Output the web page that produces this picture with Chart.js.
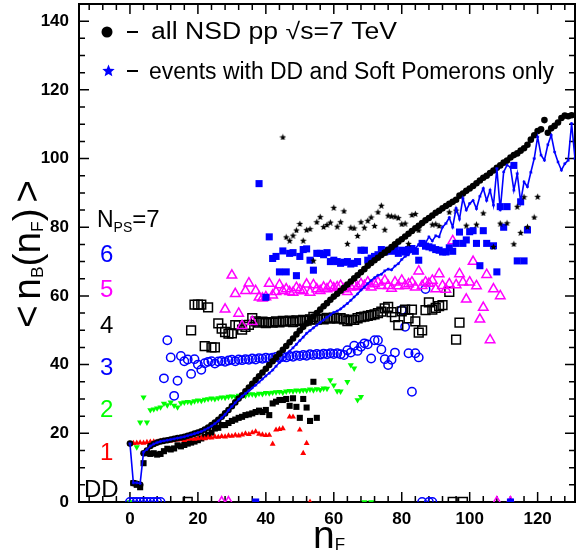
<!DOCTYPE html>
<html lang="en">
<head>
<meta charset="UTF-8">
<title>nB vs nF</title>
<script src="https://cdn.jsdelivr.net/npm/chart.js"></script>
<style>
  body { margin: 0; background: #fff; }
  #wrap { width: 577px; height: 551px; }
</style>
</head>
<body>
<div id="wrap"><canvas id="chart" width="577" height="551"></canvas></div>
<script>
// n_F on x, <n_B> on y. each series starts at n_F = *Start, null = empty bin
const xTicks = [0, 20, 40, 60, 80, 100, 120];
const yTicks = [0, 20, 40, 60, 80, 100, 120, 140];

const nsdStart = 0;
const nsdAll = [
  17, 5.5, 5.3, 5.0, 14.2, 15.0, 16.3, 16.9, 17.3, 17.6,
  17.8, 18.0, 18.2, 18.4, 18.6, 18.8, 19.0, 19.3, 19.6, 19.9,
  20.2, 20.6, 21.1, 21.7, 22.4, 23.1, 23.9, 24.8, 25.8, 26.8,
  27.9, 29.0, 30.1, 31.1, 32.2, 33.3, 34.4, 35.5, 36.6, 37.7,
  38.8, 39.9, 41.0, 42.1, 43.2, 44.3, 45.4, 46.5, 47.6, 48.8,
  49.9, 51.0, 52.0, 53.0, 54.0, 55.0, 56.0, 57.0, 57.9, 58.9,
  59.8, 60.6, 61.5, 62.4, 63.3, 64.2, 65.1, 66.0, 66.9, 67.8,
  68.8, 69.6, 70.4, 71.1, 71.9, 72.6, 73.4, 74.2, 75.0, 75.8,
  76.5, 77.3, 78.1, 78.9, 79.7, 80.4, 81.2, 82.0, 82.7, 83.4,
  84.2, 84.8, 85.5, 86.2, 86.8, 87.4, 88.0, 89.2, 89.8, 90.6,
  91.3, 92.0, 92.8, 93.6, 94.4, 95.0, 95.8, 96.5, 97.3, 98.0,
  98.8, 99.4, 100.3, 101.0, 101.5, 102.3, 103.0, 104.0, 105.5, 106.8,
  108.0, 108.5, 111.2, 107.5, 108.8, 109.5, 110.5, 111.8, 112.5, 112.3, 112.6
];

const softStart = 0; // DD + soft pomerons only
const softOnly = [
  17, 5.6, 5.6, 5.4, 14.5, 15.3, 16.3, 16.9, 17.3, 17.6,
  17.8, 18.0, 18.2, 18.4, 18.6, 18.8, 19.0, 19.3, 19.6, 19.9,
  20.2, 20.5, 21.0, 21.5, 22.1, 22.8, 23.6, 24.5, 25.5, 26.7,
  27.8, 28.9, 29.9, 30.8, 31.6, 32.4, 33.2, 34.0, 34.9, 35.8,
  36.7, 37.5, 38.4, 39.5, 40.6, 41.7, 42.8, 43.9, 44.9, 45.9,
  47.0, 48.0, 49.1, 49.9, 50.7, 51.5, 52.3, 53.0, 53.8, 54.5,
  55.2, 55.6, 56.2, 57.0, 57.8, 58.7, 59.7, 60.6, 61.7, 62.6,
  63.6, 64.5, 65.3, 66.0, 66.3, 67.3, 67.8, 67.6, 68.7, 69.4,
  70.6, 71.5, 72.0, 73.3, 73.8, 75.0, 75.8, 75.4, 77.2, 76.0,
  77.5, 77.2, 80.0, 81.1, 82.8, 80.0, 85.5, 82.4, 88.4, 85.0,
  86.9, 87.8, 85.4, 89.0, 91.3, 87.8, 90.8, 86.4, 97.1, 85.0,
  96.1, 98.1, 97.5, 90.8, 95.6, 87.4, 93.2, 91.8, 96.0, 100.0,
  106.3, 101.0, 99.5, 104.0, 106.8, 101.9, 99.0, 96.6, 98.5, 99.5, 110.2, 100.0
];

const ddStart = 1;
const ddOnly = [
  5.5, 5.0, 4.3, 11.3, 14.2, 14.0, 14.2, 13.8, 14.0, 14.8,
  15.5, 15.3, 15.6, 16.5, 16.2, 16.6, 17.0, 17.3, 17.6, 18.0,
  18.5, 19.0, 19.5, 20.2, 21.4, 21.6, 22.4, 22.4, 23.0, 23.6,
  24.0, 24.5, 24.8, 25.3, 25.5, 25.8, 26.2, 26.6, 26.2, 26.8,
  25.3, 28.7, 29.2, 29.7, 29.7, 30.0, 28.0, 30.2, 27.7, 24.5,
  30.0, 27.5, 23.6, 35.0, 24.5
];

const ps1Start = 0;
const ps1 = [
  17.0, 17.1, 17.2, 17.3, 17.2, 17.4, 17.5, 17.6, 17.5, 17.7,
  17.8, 17.9, 17.8, 18.0, 18.1, 18.2, 18.0, 18.3, 18.4, 18.3,
  18.5, 18.6, 18.5, 18.8, 18.7, 19.0, 18.9, 19.1, 19.0, 19.3,
  19.2, 19.5, 19.3, 19.6, 19.9, 19.7, 20.2, 20.5, 19.8, 19.6,
  19.4, 19.5, 16.9, 21.0, 21.2, 21.4, null, 24.8, 24.8, null,
  21.0, 14.2, 17.1, 0
];

const ps2Start = 0;
const ps2 = [
  0, null, 16.0, 23.2, 30.5, 23.2, 26.8, 27.0, 27.3, 27.6,
  28.7, 28.2, 29.0, 28.1, 27.6, 28.8, 29.0, 29.2, 29.0, 29.4,
  29.6, 29.5, 29.8, 30.0, 30.2, 30.0, 30.3, 30.5, 30.4, 30.7,
  30.8, 30.6, 31.0, 31.1, 31.0, 31.3, 31.4, 31.2, 31.6, 31.5,
  31.8, 31.7, 31.9, 32.0, 32.1, 31.9, 32.2, 32.4, 32.3, 32.5,
  32.4, 32.6, 32.5, 32.8, 32.6, 32.9, 32.7, 33.1, 33.0, 35.5,
  34.0, 32.3, 32.2, null, 35.0, 39.9, 38.9, 29.7, 30.6, 0, null, 0
];

const ps3Start = 0;
const ps3 = [
  0, 0, 0, 0, 0, 0, 0, 0, 0, 0,
  36.0, 47.1, 42.1, 30.9, 35.3, 42.5, 41.0, 41.5, 37.3, 41.6,
  40.0, 38.5, 40.4, 40.8, 41.0, 40.3, 40.9, 41.1, 40.8, 41.2,
  41.4, 41.0, 41.5, 41.3, 41.6, 41.4, 41.8, 41.5, 41.9, 41.7,
  42.0, 41.8, 42.0, 42.2, 41.9, 42.3, 42.1, 42.5, 42.3, 42.7,
  42.5, 42.8, 42.6, 43.0, 42.8, 43.1, 42.9, 43.2, 43.0, 43.3,
  43.1, 43.3, 43.0, 42.8, 44.2, 43.5, 45.5, 44.0, 45.2, 46.2,
  45.9, 41.8, 47.1, 47.1, 44.4, 41.6, 39.9, 41.4, 43.5, null,
  55.9, 51.0, 43.3, 32.1, 43.3, 42.1, 0, 62.0, 0, 0
];

const ps4Start = 17;
const ps4 = [
  0, 50.0, 57.5, 57.5, 57.5, 45.4, 56.7, 45.0, 45.0, 52.0,
  50.5, 49.5, 49.0, 49.1, 51.5, 51.5, 50.2, 51.0, 51.6, 53.5,
  52.6, 52.2, 52.5, 52.1, 52.4, 52.2, 52.6, 52.3, 52.7, 52.5,
  52.8, 52.4, 52.9, 52.7, 53.0, 52.8, 53.2, 53.9, 53.1, 53.4,
  53.2, 53.6, 53.4, 53.7, 53.5, 53.5, 53.2, 52.7, 53.0, 53.0,
  53.5, 53.8, 54.0, 54.2, 54.4, 54.6, 55.0, 55.4, 56.4, 56.8,
  55.3, 53.8, 51.5, 55.5, 56.0, 53.5, 56.0, 52.6, 49.3, 50.0,
  55.9, 58.1, 56.0, 56.5, 57.0, 57.3, null, 61.2, 0, 47.3, 52.2, 0
];

const ps5Start = 27;
const ps5 = [
  0, 56.1, 0, 66.0, 60.6, 54.9, 51.3, 61.5, 63.7, 52.5,
  61.5, 59.6, 59.3, 59.7, 63.6, 60.2, 61.2, 63.2, 61.5, 62.0,
  61.2, 61.0, 62.4, 61.8, 61.4, 63.4, 61.0, 63.2, 62.0, 61.5,
  62.5, 62.0, 63.0, 62.3, 62.6, 63.0, 62.0, 61.2, 62.5, 63.0,
  62.6, 63.5, 63.0, 64.0, 62.5, 63.5, 64.0, 63.0, 64.5, 63.0,
  62.2, 64.0, 62.9, 64.5, 63.0, 63.5, 64.0, 62.5, 67.2, 63.0,
  64.0, 63.6, 64.5, 62.0, 66.4, 63.0, 61.9, 63.5, 76.0, 63.2,
  66.4, 64.0, 59.0, 64.0, 70.0, 62.9, 53.2, 56.6, 66.2, 47.2,
  62.0, 0, 60.0, null, null, 0
];

const ps6Start = 37;
const ps6 = [
  0, 92.7, null, 59.6, 77.2, 70.9, 71.5, 67.0, 73.1, 67.0,
  72.4, 72.6, 65.9, 71.5, 73.5, 73.7, 70.4, 67.5, 72.4, 72.4,
  72.0, 72.6, 70.0, 70.4, 70.0, 69.5, 69.8, 70.0, 69.3, 69.5,
  70.0, 73.3, 73.3, 70.4, 71.0, 71.5, 72.0, 73.5, 72.8, 73.3,
  73.0, 73.8, 72.4, 73.3, 72.8, 73.5, 73.8, 73.0, 70.4, 75.3,
  74.5, 74.3, 74.0, 73.5, 73.3, 72.8, 72.8, 74.0, 73.0, 75.3,
  78.6, 75.3, 76.3, 78.7, 79.0, 75.3, 68.8, 79.0, 75.3, null,
  74.6, 67.0, 86.0, 80.0, 86.0, 0, 98.0, 70.2, 87.4, 70.2, 79.2
];

const ps7Start = 45;
const ps7 = [
  106.3, 77.2, 76.2, 77.7, 79.2, 81.1, 76.2, 79.3, 79.6, 70.4,
  81.6, 83.1, 80.2, 80.8, 81.5, 85.8, 80.3, 81.6, 84.8, 75.3,
  80.0, 79.8, 77.6, 81.6, 80.0, 82.0, 83.0, 80.5, 84.5, 86.4,
  79.4, 83.5, 83.3, 83.2, 82.8, 81.0, 81.2, 75.3, 83.7, 84.0,
  79.2, null, null, null, 80.9, 81.0, 80.5, null, null, 84.5,
  null, 85.0, null, null, 80.6, null, null, 80.9, null, 84.2,
  null, null, 74.4, null, 81.2, null, 81.3, null, 75.2, 86.1,
  78.5, 88.9, 80.2, null, 83.0, 89.0
];

const legendLines = ['all NSD pp \u221As=7 TeV', 'events with DD and Soft Pomerons only'];
const psLabels = ['7', '6', '5', '4', '3', '2', '1', 'DD'];
const psColors = ['#000', '#0000ff', '#ff00ff', '#000', '#0000ff', '#00ff00', '#ff0000', '#000'];

function pts(start, vals) {
  return vals.map((v, i) => ({ x: start + i, y: v })).filter(p => p.y !== null);
}

function starCanvas(size, color) {
  const c = document.createElement('canvas');
  c.width = c.height = size;
  const g = c.getContext('2d');
  const r = size / 2, ri = r * 0.45;
  g.beginPath();
  for (let i = 0; i < 10; i++) {
    const rad = i % 2 ? ri : r;
    const a = -Math.PI / 2 + i * Math.PI / 5;
    g.lineTo(r + rad * Math.cos(a), r + 0.6 + rad * Math.sin(a));
  }
  g.closePath();
  g.fillStyle = color;
  g.fill();
  return c;
}

const blackStar = starCanvas(7, '#000');
const blueStarBig = starCanvas(13, '#0000ff');
const FONT = '"Liberation Sans", Arial, sans-serif';

// draws text pieces [str, size, dy] side by side, returns total width
function pieces(ctx, parts, x, y, measureOnly) {
  let cx = x;
  for (const [s, size, dy] of parts) {
    ctx.font = size + 'px ' + FONT;
    if (!measureOnly) ctx.fillText(s, cx, y + dy);
    cx += ctx.measureText(s).width;
  }
  return cx - x;
}

function fitText(ctx, str, x, y, w) {
  const m = ctx.measureText(str).width;
  ctx.save();
  ctx.translate(x, y);
  ctx.scale(w / m, 1);
  ctx.fillText(str, 0, 0);
  ctx.restore();
}

const framePlugin = {
  id: 'frame',
  beforeDatasetsDraw(chart) {
    const { ctx, chartArea: a, scales: { x, y } } = chart;
    ctx.save();
    ctx.strokeStyle = '#000';
    ctx.lineWidth = 1.5;
    ctx.beginPath();
    for (let v = -12; v <= 131; v += 4) {
      const px = x.getPixelForValue(v);
      const len = v % 20 === 0 ? 10 : 6;
      ctx.moveTo(px, a.bottom); ctx.lineTo(px, a.bottom - len);
      ctx.moveTo(px, a.top); ctx.lineTo(px, a.top + len);
    }
    for (let v = 0; v <= 145; v += 5) {
      const py = y.getPixelForValue(v);
      const len = v % 20 === 0 ? 10 : 6;
      ctx.moveTo(a.left, py); ctx.lineTo(a.left + len, py);
      ctx.moveTo(a.right, py); ctx.lineTo(a.right - len, py);
    }
    ctx.stroke();
    ctx.lineWidth = 2;
    ctx.strokeRect(a.left, a.top, a.right - a.left, a.bottom - a.top);
    ctx.restore();
  },
  afterDraw(chart) {
    const { ctx } = chart;
    ctx.save();
    ctx.fillStyle = '#000';
    ctx.textBaseline = 'alphabetic';

    // legend inside the frame
    ctx.beginPath();
    ctx.arc(107, 32, 5.5, 0, Math.PI * 2);
    ctx.fill();
    ctx.drawImage(blueStarBig, 102, 64);
    ctx.fillRect(127, 31, 11, 2);
    ctx.fillRect(127, 70, 11, 2);
    ctx.font = '23px ' + FONT;
    fitText(ctx, legendLines[0], 151, 39, 246);
    fitText(ctx, legendLines[1], 149, 79, 405);

    // N_PS labels on the left
    ctx.fillStyle = psColors[0];
    const w = pieces(ctx, [['N', 23, 0], ['PS', 14, 5]], 97, 227);
    pieces(ctx, [['=' + psLabels[0], 24, 0]], 97 + w, 227);
    const base = [262, 297, 333, 375, 417, 460, 497];
    for (let i = 1; i < psLabels.length; i++) {
      ctx.fillStyle = psColors[i];
      ctx.font = '24px ' + FONT;
      ctx.fillText(psLabels[i], psLabels[i] === 'DD' ? 84 : 100, base[i - 1]);
    }

    // axis titles
    ctx.fillStyle = '#000';
    const yParts = [['<', 38, 0], [' ', 20, 0], ['n', 38, 0], ['B', 17, 3], ['(', 38, 0],
      ['n', 38, 0], ['F', 17, 3], [')', 38, 0], [' ', 20, 0], ['>', 38, 0]];
    const yw = pieces(ctx, yParts, 0, 0, true);
    ctx.save();
    ctx.translate(40, 254);
    ctx.rotate(-Math.PI / 2);
    ctx.scale(148 / yw, 1);
    pieces(ctx, yParts, -yw / 2, 0);
    ctx.restore();

    const xParts = [['n', 39, 0], ['F', 17, 2]];
    const xw = pieces(ctx, xParts, 0, 0, true);
    pieces(ctx, xParts, 329 - xw / 2, 548);
    ctx.restore();
  }
};

const tickFont = { family: FONT, size: 17, weight: 'bold' };

new Chart(document.getElementById('chart'), {
  type: 'scatter',
  data: {
    datasets: [
      {
        data: pts(softStart, softOnly), showLine: true, borderColor: '#0000ff', borderWidth: 1.6,
        pointStyle: 'star', pointRadius: 1.5, pointBorderWidth: 1, pointBorderColor: '#0000ff', tension: 0
      },
      { data: pts(ps7Start, ps7), pointStyle: blackStar },
      { data: pts(nsdStart, nsdAll), pointRadius: 3.3, backgroundColor: '#000', borderWidth: 0 },
      { data: pts(ps6Start, ps6), pointStyle: 'rect', pointRadius: 5, backgroundColor: '#0000ff', borderWidth: 0 },
      { data: pts(ps5Start, ps5), pointStyle: 'triangle', pointRadius: 5.5, backgroundColor: 'rgba(0,0,0,0)', borderColor: '#ff00ff', borderWidth: 1.5 },
      { data: pts(ps4Start, ps4), pointStyle: 'rect', pointRadius: 6.2, backgroundColor: 'rgba(0,0,0,0)', borderColor: '#000', borderWidth: 1.5 },
      { data: pts(ps3Start, ps3), pointRadius: 4.2, backgroundColor: 'rgba(0,0,0,0)', borderColor: '#0000ff', borderWidth: 1.5 },
      { data: pts(ps2Start, ps2), pointStyle: 'triangle', rotation: 180, pointRadius: 3.6, backgroundColor: '#00ff00', borderWidth: 0 },
      { data: pts(ps1Start, ps1), pointStyle: 'triangle', pointRadius: 3.4, backgroundColor: '#ff0000', borderWidth: 0 },
      { data: pts(ddStart, ddOnly), pointStyle: 'rect', pointRadius: 4.3, backgroundColor: '#000', borderWidth: 0 }
    ]
  },
  options: {
    responsive: false,
    animation: false,
    events: [],
    layout: { autoPadding: false, padding: { top: 4, right: 2, left: 0, bottom: 0 } },
    plugins: { legend: { display: false }, tooltip: { enabled: false } },
    scales: {
      x: {
        type: 'linear', min: -15, max: 131,
        grid: { display: false, drawTicks: false },
        border: { display: false },
        ticks: { font: tickFont, color: '#000', padding: 7, autoSkip: false, maxRotation: 0 },
        afterBuildTicks: s => { s.ticks = xTicks.map(v => ({ value: v })); },
        afterFit: s => { s.height = 49; s.paddingLeft = 0; s.paddingRight = 0; }
      },
      y: {
        type: 'linear', min: 0, max: 145,
        grid: { display: false, drawTicks: false },
        border: { display: false },
        ticks: { font: tickFont, color: '#000', padding: 10, autoSkip: false },
        afterBuildTicks: s => { s.ticks = yTicks.map(v => ({ value: v })); },
        afterFit: s => { s.width = 79; s.paddingTop = 0; s.paddingBottom = 0; }
      }
    }
  },
  plugins: [framePlugin]
});
</script>
</body>
</html>
